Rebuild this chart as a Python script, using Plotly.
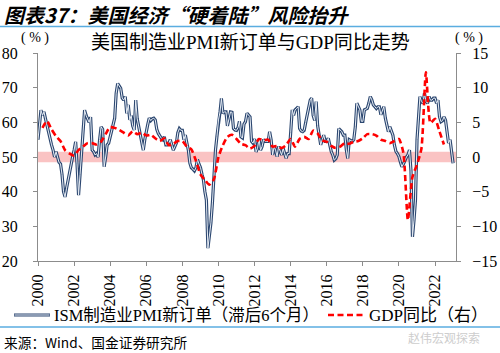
import plotly.graph_objects as go
import pandas as pd

# ISM manufacturing PMI new orders, lagged 6 months (monthly, from 2000-01)
pmi_start = "2000-01-01"
pmi_values = [
    55, 59, 63.5, 62, 63, 61, 59, 57, 55.5, 53.5, 52, 50,          # 2000
    51.5, 50, 48.5, 48, 45, 40, 38.5, 41, 43.5, 45.5, 48, 50,       # 2001
    52, 54.4, 48, 39, 45, 52, 58, 63.5, 62, 61.2, 60, 61.5,         # 2002
    52, 51.5, 50.6, 51, 50, 55, 58.7, 58, 47.2, 50, 53.5, 54,       # 2003
    55.9, 57, 59, 61.2, 68.4, 71.2, 70.5, 69.8, 67, 66.4, 67.4, 62.6,  # 2004
    65, 60.7, 62, 59, 57.8, 66.4, 61, 58.7, 56.3, 54, 52, 55,       # 2005
    57.8, 59.5, 61.2, 60.5, 61, 61.2, 60.7, 58, 56.8, 56, 55.4, 55,  # 2006
    55.8, 53.5, 53.5, 54, 55, 53.5, 52, 53, 54, 57, 58.2, 57.7,     # 2007
    57.7, 55, 56.3, 54, 52, 48.2, 46.9, 46.5, 46, 46.9, 49.3, 48,   # 2008
    47, 45, 43.5, 40, 37.6, 23.7, 27, 31, 37, 45, 52, 56,           # 2009
    60.7, 63, 66.9, 62.6, 63, 63, 59, 61, 63, 62.9, 58.2, 57.8,     # 2010
    57.7, 58.5, 60.3, 55.8, 55.5, 59.5, 60.2, 62.6, 62, 61.6, 54.5, 54,  # 2011
    55.2, 51.5, 52.5, 55.3, 52, 53, 55, 54.5, 54.5, 54.5, 57.3, 55,  # 2012
    50.6, 53, 52, 50.1, 53, 51.5, 50.6, 52.5, 51, 49.6, 51, 51,     # 2013
    57, 63.6, 62, 63.6, 64, 64.5, 58.2, 57.5, 57.3, 57.7, 60, 62.5,  # 2014
    64, 66.4, 67, 62, 60.6, 66, 59, 55.4, 53.5, 55, 56.3, 54.5,     # 2015
    54.5, 55.4, 53.5, 51.6, 50.6, 49.1, 49.5, 50.6, 58.2, 57.8, 57.3, 56.3,  # 2016
    56.3, 52, 49.6, 55, 54.8, 54.5, 55, 58.7, 65.5, 64.5, 63.6, 60.3,  # 2017
    60.3, 63.6, 63.8, 64, 65.5, 67.4, 66.5, 65, 64.5, 64, 64.5, 64.5,  # 2018
    62.2, 63.5, 64.5, 61.2, 59, 57.3, 58.7, 57.5, 56.3, 53.5, 51.6, 51,  # 2019
    50.1, 48.5, 47.2, 48, 49.2, 50, 50.6, 52, 46, 27, 31.8, 37.6,   # 2020
    55, 63.6, 67.4, 66, 65.5, 68.4, 66, 65.5, 67.4, 66.4, 66.4, 67,  # 2021
    67, 65.5, 66.4, 61.6, 60.2, 60.5, 61.6, 60.6, 56.8, 54, 55, 52,  # 2022
    48.2,                                                            # 2023
]

# US real GDP year-on-year (%), quarterly, plotted at quarter end
gdp_start = "2000-03-31"
gdp_values = [
    4.2, 5.2, 4.0, 3.0,
    2.3, 1.0, 0.5, 0.2,
    1.0, 1.5, 2.0, 2.0,
    1.8, 2.2, 3.3, 4.3,
    4.2, 3.9, 3.5, 3.1,
    3.7, 3.3, 3.5, 3.1,
    3.2, 2.7, 2.3, 2.7,
    1.7, 1.9, 2.3, 2.3,
    1.5, 1.1, -0.5, -2.5,
    -3.3, -4.0, -3.2, 0.0,
    1.7, 2.9, 3.2, 2.6,
    1.9, 1.7, 1.2, 1.6,
    2.6, 2.4, 2.5, 1.5,
    1.6, 1.3, 1.7, 2.6,
    1.5, 2.6, 2.9, 2.6,
    3.8, 3.4, 2.4, 2.2,
    1.6, 1.3, 1.5, 2.0,
    1.9, 2.2, 2.3, 2.7,
    3.3, 3.3, 3.1, 2.5,
    2.3, 2.0, 2.3, 2.6,
    0.6, -9.1, -2.9, -1.1,
    1.2, 12.2, 4.9, 5.5,
    3.7, 1.8,
]

x_tick_years = list(range(2000, 2023, 2))
band_low, band_high = 48.5, 51.5

pmi_dates = pd.date_range(pmi_start, periods=len(pmi_values), freq="MS")
gdp_dates = pd.date_range(gdp_start, periods=len(gdp_values), freq="3ME")

NAVY = "#2C4770"
RED = "#FF0000"
SERIF = "Liberation Serif, Noto Sans CJK SC"
CJK = "Noto Sans CJK SC"

# plot-area pixel geometry
L, R, T, B = 38, 456, 53, 261
W, H = 500, 353


def px(x):
    return (x - L) / (R - L)


def py(y):
    return (B - y) / (B - T)


fig = go.Figure()
fig.add_trace(go.Scatter(x=pmi_dates, y=pmi_values, mode="lines",
                         line=dict(color=NAVY, width=3.2), showlegend=False,
                         hoverinfo="skip"))
fig.add_trace(go.Scatter(x=pmi_dates, y=pmi_values, mode="lines",
                         line=dict(color="#E8EEF6", width=1.0), showlegend=False))
fig.add_trace(go.Scatter(x=gdp_dates, y=gdp_values, mode="lines", yaxis="y2",
                         line=dict(color=RED, width=2.6, dash="6px,3.5px",
                                   shape="spline", smoothing=0.6),
                         showlegend=False))

shapes = [
    dict(type="rect", xref="paper", yref="y", x0=0, x1=1, y0=band_low, y1=band_high,
         fillcolor="#FAC3C3", line=dict(width=0), layer="below"),
    # header / footer separator lines
    dict(type="line", xref="paper", yref="paper", x0=px(0), x1=px(W), y0=py(26.5), y1=py(26.5),
         line=dict(color="#5AADE0", width=1.5)),
    dict(type="line", xref="paper", yref="paper", x0=px(0), x1=px(W), y0=py(327), y1=py(327),
         line=dict(color="#5AADE0", width=1.5)),
    # legend samples
    dict(type="line", xref="paper", yref="paper", x0=px(14), x1=px(50), y0=py(315), y1=py(315),
         line=dict(color=NAVY, width=3.2)),
    dict(type="line", xref="paper", yref="paper", x0=px(14.5), x1=px(49.5), y0=py(315), y1=py(315),
         line=dict(color="#E8EEF6", width=1.0)),
    dict(type="line", xref="paper", yref="paper", x0=px(328), x1=px(363), y0=py(315), y1=py(315),
         line=dict(color=RED, width=2.6, dash="6px,3.5px")),
]

annotations = [
    dict(text="<b><i>图表37：美国经济“硬着陆”风险抬升</i></b>", x=px(2), y=py(14),
         xanchor="left", yanchor="middle", font=dict(family=CJK, size=20, color="#000000")),
    dict(text="美国制造业PMI新订单与GDP同比走势", x=px(250), y=py(43),
         xanchor="center", yanchor="middle", font=dict(family=SERIF, size=19, color="#000000")),
    dict(text="( % )", x=px(35), y=py(38), xanchor="center", yanchor="middle",
         font=dict(family=SERIF, size=14, color="#000000")),
    dict(text="( % )", x=px(469), y=py(38), xanchor="center", yanchor="middle",
         font=dict(family=SERIF, size=14, color="#000000")),
    dict(text="ISM制造业PMI新订单（滞后6个月）", x=px(52), y=py(315),
         xanchor="left", yanchor="middle", font=dict(family=SERIF, size=16.5, color="#000000")),
    dict(text="GDP同比（右）", x=px(367), y=py(315),
         xanchor="left", yanchor="middle", font=dict(family=SERIF, size=17, color="#000000")),
    dict(text="来源：Wind、国金证券研究所", x=px(2), y=py(342),
         xanchor="left", yanchor="middle", font=dict(family=CJK, size=13.7, color="#000000")),
    dict(text="赵伟宏观探索", x=px(482), y=py(337),
         xanchor="right", yanchor="middle", font=dict(family=CJK, size=12, color="#CDCDCD")),
]
for a in annotations:
    a.update(xref="paper", yref="paper", showarrow=False)

tick_font = dict(family="Liberation Serif", size=16, color="#000000")
axis_common = dict(showline=True, linecolor="#8C8C8C", linewidth=1,
                   ticks="outside", ticklen=4, tickcolor="#8C8C8C",
                   showgrid=False, zeroline=False, tickfont=tick_font,
                   automargin=False)
fig.update_layout(
    width=W, height=H,
    margin=dict(l=L, r=W - R, t=T, b=H - B, pad=0, autoexpand=False),
    paper_bgcolor="white", plot_bgcolor="white",
    shapes=shapes, annotations=annotations,
    xaxis=dict(range=["2000-01-01", "2023-03-01"],
               tickvals=[f"{y}-01-01" for y in x_tick_years],
               ticktext=[str(y) for y in x_tick_years],
               tickangle=-90, ticklabelstandoff=2, **axis_common),
    yaxis=dict(range=[20, 80], dtick=10, ticklabelstandoff=12, **axis_common),
    yaxis2=dict(range=[-15, 15], dtick=5, overlaying="y", side="right",
                ticklabelstandoff=8, **axis_common),
)

fig.write_html("out.html")
